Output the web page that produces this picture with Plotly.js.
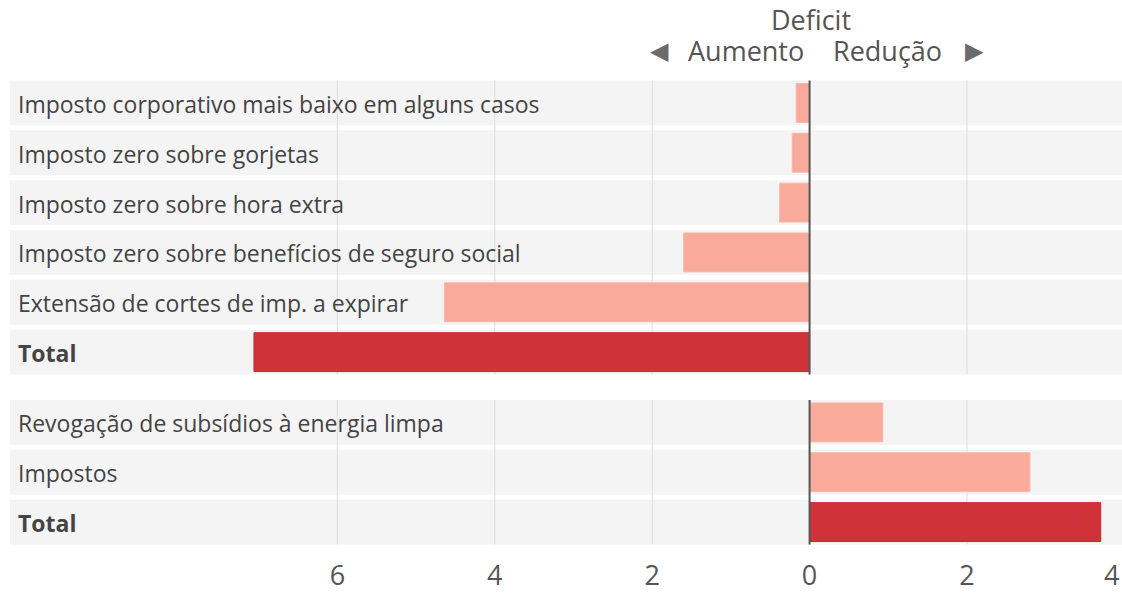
<!DOCTYPE html>
<html>
<head>
<meta charset="utf-8">
<script src="https://cdn.plot.ly/plotly-3.0.1.min.js"></script>
<style>
html,body{margin:0;padding:0;background:#fff;}
#chart{width:1122px;height:593px;}
</style>
</head>
<body>
<div id="chart"></div>
<script>
// ---- data ----
var categories = [
  "Imposto corporativo mais baixo em alguns casos",
  "Imposto zero sobre gorjetas",
  "Imposto zero sobre hora extra",
  "Imposto zero sobre benefícios de seguro social",
  "Extensão de cortes de imp. a expirar",
  "Total",
  "Revogação de subsídios à energia limpa",
  "Impostos",
  "Total"
];
var values = [-0.17, -0.22, -0.38, -1.6, -4.64, -7.06, 0.93, 2.8, 3.7];
var groups = [0, 0, 0, 0, 0, 0, 1, 1, 1];
var tickValues = [-6, -4, -2, 0, 2, 4];
var tickLabels = ["6", "4", "2", "0", "2", "4"];
var headerTitle = "Deficit";
var headerLeft = "Aumento";
var headerRight = "Redução";

// ---- layout helpers ----
var GROUP_GAP = 0.41;
var ypos = categories.map(function (c, i) { return i + groups[i] * GROUP_GAP; });
var isTotal = categories.map(function (c) { return c === "Total"; });
var LIGHT = "#f8aa9b", DARK = "#cf3238";
var BAND = 0.45;
var XMIN = -10.16, XMAX = 3.97;
var FONT = "Open Sans, sans-serif";
var TICKSIZE = 27;

var trace = {
  type: "bar",
  orientation: "h",
  x: values,
  y: ypos,
  width: 0.78,
  marker: {
    color: isTotal.map(function (t) { return t ? DARK : LIGHT; }),
    line: { color: isTotal.map(function (t) { return t ? "#c42a30" : "#f9b6a9"; }), width: 1 }
  },
  hoverinfo: "skip"
};

var shapes = [];
// row bands
ypos.forEach(function (y) {
  shapes.push({ type: "rect", xref: "paper", yref: "y", x0: 0, x1: 1, y0: y - BAND, y1: y + BAND,
    fillcolor: "#f4f4f4", line: { width: 0 }, layer: "below" });
});
// group extents
[0, 1].forEach(function (g) {
  var ys = ypos.filter(function (y, i) { return groups[i] === g; });
  var y0 = Math.min.apply(null, ys) - BAND, y1 = Math.max.apply(null, ys) + BAND;
  tickValues.forEach(function (v) {
    if (v === 0 || v >= XMAX) return;
    shapes.push({ type: "line", xref: "x", yref: "y", x0: v, x1: v, y0: y0, y1: y1,
      line: { color: "#dedede", width: 1 }, layer: "below" });
  });
  shapes.push({ type: "line", xref: "x", yref: "y", x0: 0, x1: 0, y0: y0, y1: y1,
    line: { color: "#555555", width: 2 }, layer: "above" });
});

var annotations = [];
categories.forEach(function (c, i) {
  annotations.push({
    xref: "paper", yref: "y", x: 0, y: ypos[i], xanchor: "left", yanchor: "middle",
    xshift: 6, yshift: -1, showarrow: false,
    text: isTotal[i] ? "<b>" + c + "</b>" : c,
    font: { family: FONT, size: 23, color: "#444444" }
  });
});
// last tick label (at right edge)
annotations.push({
  xref: "paper", yref: "paper", x: 1, y: 0, xanchor: "right", yanchor: "middle",
  xshift: -2, yshift: -27, showarrow: false, borderpad: 0,
  text: tickLabels[tickLabels.length - 1],
  font: { family: FONT, size: TICKSIZE, color: "#555555" }
});
// header
annotations.push({
  xref: "x", yref: "paper", x: 0, y: 1, xanchor: "center", yanchor: "middle",
  xshift: 1, yshift: 59, showarrow: false, text: headerTitle, borderpad: 0,
  font: { family: FONT, size: 27, color: "#555555" }
});
annotations.push({
  xref: "x", yref: "paper", x: 0, y: 1, xanchor: "right", yanchor: "middle",
  xshift: -5, yshift: 28, showarrow: false, text: headerLeft, borderpad: 0,
  font: { family: FONT, size: 27, color: "#555555" }
});
annotations.push({
  xref: "x", yref: "paper", x: 0, y: 1, xanchor: "left", yanchor: "middle",
  xshift: 22, yshift: 28, showarrow: false, text: headerRight, borderpad: 0,
  font: { family: FONT, size: 27, color: "#555555" }
});
annotations.push({
  xref: "x", yref: "paper", x: 0, y: 1, xanchor: "center", yanchor: "middle",
  xshift: -150, yshift: 27, showarrow: false, text: "◀", borderpad: 0,
  font: { family: "DejaVu Sans, sans-serif", size: 24, color: "#6b6b6b" }
});
annotations.push({
  xref: "x", yref: "paper", x: 0, y: 1, xanchor: "center", yanchor: "middle",
  xshift: 165, yshift: 27, showarrow: false, text: "▶", borderpad: 0,
  font: { family: "DejaVu Sans, sans-serif", size: 24, color: "#6b6b6b" }
});

var layout = {
  width: 1122, height: 593,
  margin: { l: 10, r: 0, t: 78, b: 46 },
  paper_bgcolor: "#ffffff",
  plot_bgcolor: "#ffffff",
  showlegend: false,
  bargap: 0,
  xaxis: {
    range: [XMIN, XMAX],
    tickvals: tickValues.slice(0, tickValues.length - 1),
    ticktext: tickLabels.slice(0, tickLabels.length - 1),
    showgrid: false, zeroline: false, showline: false, ticks: "",
    ticklabelstandoff: 10,
    tickfont: { family: FONT, size: TICKSIZE, color: "#555555" },
    fixedrange: true
  },
  yaxis: {
    range: [ypos[ypos.length - 1] + 0.5, -0.5],
    showgrid: false, zeroline: false, showline: false, showticklabels: false, ticks: "",
    fixedrange: true
  },
  shapes: shapes,
  annotations: annotations
};

Plotly.newPlot("chart", [trace], layout, { displayModeBar: false, staticPlot: true });
</script>
</body>
</html>
